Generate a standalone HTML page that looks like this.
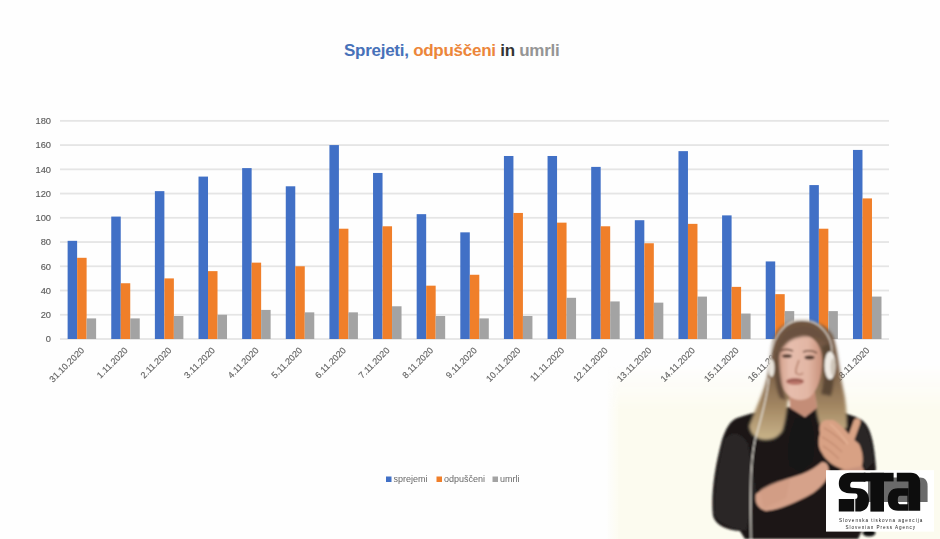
<!DOCTYPE html>
<html><head><meta charset="utf-8">
<style>
html,body{margin:0;padding:0;}
body{width:940px;height:539px;overflow:hidden;background:#fefefe;position:relative;font-family:"Liberation Sans",sans-serif;}
.cream{position:absolute;left:606px;top:365px;width:334px;height:174px;background:linear-gradient(to right,rgba(252,251,239,0) 0px,#fcfbef 14px);-webkit-mask-image:linear-gradient(to bottom,transparent 0px,#000 45px);}
svg{position:absolute;left:0;top:0;filter:blur(0.35px);}
.yl{font-size:9.3px;fill:#5a5a5a;stroke:#666;stroke-width:0.15px;}
.xl{font-size:9px;fill:#606060;stroke:#6a6a6a;stroke-width:0.15px;}
.title{position:absolute;left:344px;top:41px;font-size:17px;font-weight:bold;white-space:nowrap;letter-spacing:-0.27px;}
.legend{font-size:9px;fill:#686868;}
</style></head><body>
<div class="cream"></div>
<div class="title"><span style="color:#4771b9">Sprejeti,</span> <span style="color:#ec863a">odpuščeni</span> <span style="color:#333333">in</span> <span style="color:#959595">umrli</span></div>
<svg width="940" height="539" viewBox="0 0 940 539">
<rect x="60.0" y="338.10" width="829.0" height="1.8" fill="#e5e5e5"/>
<text x="51" y="342.40" text-anchor="end" class="yl">0</text>
<rect x="60.0" y="313.86" width="829.0" height="1.8" fill="#e5e5e5"/>
<text x="51" y="318.16" text-anchor="end" class="yl">20</text>
<rect x="60.0" y="289.62" width="829.0" height="1.8" fill="#e5e5e5"/>
<text x="51" y="293.92" text-anchor="end" class="yl">40</text>
<rect x="60.0" y="265.38" width="829.0" height="1.8" fill="#e5e5e5"/>
<text x="51" y="269.68" text-anchor="end" class="yl">60</text>
<rect x="60.0" y="241.14" width="829.0" height="1.8" fill="#e5e5e5"/>
<text x="51" y="245.44" text-anchor="end" class="yl">80</text>
<rect x="60.0" y="216.90" width="829.0" height="1.8" fill="#e5e5e5"/>
<text x="51" y="221.20" text-anchor="end" class="yl">100</text>
<rect x="60.0" y="192.66" width="829.0" height="1.8" fill="#e5e5e5"/>
<text x="51" y="196.96" text-anchor="end" class="yl">120</text>
<rect x="60.0" y="168.42" width="829.0" height="1.8" fill="#e5e5e5"/>
<text x="51" y="172.72" text-anchor="end" class="yl">140</text>
<rect x="60.0" y="144.18" width="829.0" height="1.8" fill="#e5e5e5"/>
<text x="51" y="148.48" text-anchor="end" class="yl">160</text>
<rect x="60.0" y="119.94" width="829.0" height="1.8" fill="#e5e5e5"/>
<text x="51" y="124.24" text-anchor="end" class="yl">180</text>
<rect x="67.62" y="240.83" width="9.5" height="98.17" fill="#4170c6"/>
<rect x="77.12" y="257.80" width="9.5" height="81.20" fill="#f07f2a"/>
<rect x="86.62" y="318.40" width="9.5" height="20.60" fill="#a3a3a3"/>
<text transform="translate(80.52,346.8) rotate(-45)" text-anchor="end" class="xl" dy="6">31.10.2020</text>
<rect x="111.25" y="216.59" width="9.5" height="122.41" fill="#4170c6"/>
<rect x="120.75" y="283.25" width="9.5" height="55.75" fill="#f07f2a"/>
<rect x="130.25" y="318.40" width="9.5" height="20.60" fill="#a3a3a3"/>
<text transform="translate(124.15,346.8) rotate(-45)" text-anchor="end" class="xl" dy="6">1.11.2020</text>
<rect x="154.88" y="191.14" width="9.5" height="147.86" fill="#4170c6"/>
<rect x="164.38" y="278.40" width="9.5" height="60.60" fill="#f07f2a"/>
<rect x="173.88" y="315.97" width="9.5" height="23.03" fill="#a3a3a3"/>
<text transform="translate(167.78,346.8) rotate(-45)" text-anchor="end" class="xl" dy="6">2.11.2020</text>
<rect x="198.51" y="176.59" width="9.5" height="162.41" fill="#4170c6"/>
<rect x="208.01" y="271.13" width="9.5" height="67.87" fill="#f07f2a"/>
<rect x="217.51" y="314.76" width="9.5" height="24.24" fill="#a3a3a3"/>
<text transform="translate(211.41,346.8) rotate(-45)" text-anchor="end" class="xl" dy="6">3.11.2020</text>
<rect x="242.14" y="168.11" width="9.5" height="170.89" fill="#4170c6"/>
<rect x="251.64" y="262.64" width="9.5" height="76.36" fill="#f07f2a"/>
<rect x="261.14" y="309.91" width="9.5" height="29.09" fill="#a3a3a3"/>
<text transform="translate(255.04,346.8) rotate(-45)" text-anchor="end" class="xl" dy="6">4.11.2020</text>
<rect x="285.77" y="186.29" width="9.5" height="152.71" fill="#4170c6"/>
<rect x="295.27" y="266.28" width="9.5" height="72.72" fill="#f07f2a"/>
<rect x="304.77" y="312.34" width="9.5" height="26.66" fill="#a3a3a3"/>
<text transform="translate(298.67,346.8) rotate(-45)" text-anchor="end" class="xl" dy="6">5.11.2020</text>
<rect x="329.41" y="145.08" width="9.5" height="193.92" fill="#4170c6"/>
<rect x="338.91" y="228.71" width="9.5" height="110.29" fill="#f07f2a"/>
<rect x="348.41" y="312.34" width="9.5" height="26.66" fill="#a3a3a3"/>
<text transform="translate(342.31,346.8) rotate(-45)" text-anchor="end" class="xl" dy="6">6.11.2020</text>
<rect x="373.04" y="172.96" width="9.5" height="166.04" fill="#4170c6"/>
<rect x="382.54" y="226.28" width="9.5" height="112.72" fill="#f07f2a"/>
<rect x="392.04" y="306.28" width="9.5" height="32.72" fill="#a3a3a3"/>
<text transform="translate(385.94,346.8) rotate(-45)" text-anchor="end" class="xl" dy="6">7.11.2020</text>
<rect x="416.67" y="214.16" width="9.5" height="124.84" fill="#4170c6"/>
<rect x="426.17" y="285.67" width="9.5" height="53.33" fill="#f07f2a"/>
<rect x="435.67" y="315.97" width="9.5" height="23.03" fill="#a3a3a3"/>
<text transform="translate(429.57,346.8) rotate(-45)" text-anchor="end" class="xl" dy="6">8.11.2020</text>
<rect x="460.30" y="232.34" width="9.5" height="106.66" fill="#4170c6"/>
<rect x="469.80" y="274.76" width="9.5" height="64.24" fill="#f07f2a"/>
<rect x="479.30" y="318.40" width="9.5" height="20.60" fill="#a3a3a3"/>
<text transform="translate(473.20,346.8) rotate(-45)" text-anchor="end" class="xl" dy="6">9.11.2020</text>
<rect x="503.93" y="155.99" width="9.5" height="183.01" fill="#4170c6"/>
<rect x="513.43" y="212.95" width="9.5" height="126.05" fill="#f07f2a"/>
<rect x="522.93" y="315.97" width="9.5" height="23.03" fill="#a3a3a3"/>
<text transform="translate(516.83,346.8) rotate(-45)" text-anchor="end" class="xl" dy="6">10.11.2020</text>
<rect x="547.56" y="155.99" width="9.5" height="183.01" fill="#4170c6"/>
<rect x="557.06" y="222.65" width="9.5" height="116.35" fill="#f07f2a"/>
<rect x="566.56" y="297.79" width="9.5" height="41.21" fill="#a3a3a3"/>
<text transform="translate(560.46,346.8) rotate(-45)" text-anchor="end" class="xl" dy="6">11.11.2020</text>
<rect x="591.19" y="166.90" width="9.5" height="172.10" fill="#4170c6"/>
<rect x="600.69" y="226.28" width="9.5" height="112.72" fill="#f07f2a"/>
<rect x="610.19" y="301.43" width="9.5" height="37.57" fill="#a3a3a3"/>
<text transform="translate(604.09,346.8) rotate(-45)" text-anchor="end" class="xl" dy="6">12.11.2020</text>
<rect x="634.83" y="220.22" width="9.5" height="118.78" fill="#4170c6"/>
<rect x="644.33" y="243.25" width="9.5" height="95.75" fill="#f07f2a"/>
<rect x="653.83" y="302.64" width="9.5" height="36.36" fill="#a3a3a3"/>
<text transform="translate(647.73,346.8) rotate(-45)" text-anchor="end" class="xl" dy="6">13.11.2020</text>
<rect x="678.46" y="151.14" width="9.5" height="187.86" fill="#4170c6"/>
<rect x="687.96" y="223.86" width="9.5" height="115.14" fill="#f07f2a"/>
<rect x="697.46" y="296.58" width="9.5" height="42.42" fill="#a3a3a3"/>
<text transform="translate(691.36,346.8) rotate(-45)" text-anchor="end" class="xl" dy="6">14.11.2020</text>
<rect x="722.09" y="215.38" width="9.5" height="123.62" fill="#4170c6"/>
<rect x="731.59" y="286.88" width="9.5" height="52.12" fill="#f07f2a"/>
<rect x="741.09" y="313.55" width="9.5" height="25.45" fill="#a3a3a3"/>
<text transform="translate(734.99,346.8) rotate(-45)" text-anchor="end" class="xl" dy="6">15.11.2020</text>
<rect x="765.72" y="261.43" width="9.5" height="77.57" fill="#4170c6"/>
<rect x="775.22" y="294.16" width="9.5" height="44.84" fill="#f07f2a"/>
<rect x="784.72" y="311.12" width="9.5" height="27.88" fill="#a3a3a3"/>
<text transform="translate(778.62,346.8) rotate(-45)" text-anchor="end" class="xl" dy="6">16.11.2020</text>
<rect x="809.35" y="185.08" width="9.5" height="153.92" fill="#4170c6"/>
<rect x="818.85" y="228.71" width="9.5" height="110.29" fill="#f07f2a"/>
<rect x="828.35" y="311.12" width="9.5" height="27.88" fill="#a3a3a3"/>
<text transform="translate(822.25,346.8) rotate(-45)" text-anchor="end" class="xl" dy="6">17.11.2020</text>
<rect x="852.98" y="149.93" width="9.5" height="189.07" fill="#4170c6"/>
<rect x="862.48" y="198.41" width="9.5" height="140.59" fill="#f07f2a"/>
<rect x="871.98" y="296.58" width="9.5" height="42.42" fill="#a3a3a3"/>
<text transform="translate(865.88,346.8) rotate(-45)" text-anchor="end" class="xl" dy="6">18.11.2020</text>
<rect x="386" y="476.5" width="5.5" height="5.5" fill="#4170c6"/>
<text x="393.5" y="482" class="legend">sprejemi</text>
<rect x="436.5" y="476.5" width="5.5" height="5.5" fill="#f07f2a"/>
<text x="444" y="482" class="legend">odpuščeni</text>
<rect x="492.5" y="476.5" width="5.5" height="5.5" fill="#a3a3a3"/>
<text x="500" y="482" class="legend">umrli</text>
<defs>
<filter id="bl" x="-10%" y="-10%" width="120%" height="120%"><feGaussianBlur stdDeviation="1"/></filter>
<filter id="bl3" x="-30%" y="-30%" width="160%" height="160%"><feGaussianBlur stdDeviation="1.3"/></filter>
<linearGradient id="hairg" x1="0" y1="320" x2="0" y2="440" gradientUnits="userSpaceOnUse">
<stop offset="0" stop-color="#6e5440"/><stop offset="0.4" stop-color="#7a5f48"/><stop offset="0.7" stop-color="#a08460"/><stop offset="1" stop-color="#c9b48a"/>
</linearGradient>
<linearGradient id="faceg" x1="776" y1="0" x2="822" y2="0" gradientUnits="userSpaceOnUse">
<stop offset="0" stop-color="#cf9a84"/><stop offset="0.3" stop-color="#e6bdad"/><stop offset="0.7" stop-color="#e2b6a4"/><stop offset="1" stop-color="#c8917b"/>
</linearGradient>
<linearGradient id="creamg" x1="0" y1="0" x2="0" y2="1">
<stop offset="0" stop-color="#fefefe" stop-opacity="0"/><stop offset="0.25" stop-color="#f9f8ef"/><stop offset="1" stop-color="#f8f7ec"/>
</linearGradient>
</defs>
<g filter="url(#bl)">
<!-- body -->
<path d="M737,418 C752,412 772,409 790,407 L805,417 L817,407 C832,409 848,413 860,419 C870,424 874,440 876,468 L872,510 L858,539 L745,539 L740,531 C728,530 716,526 713,516 C711,496 714,470 722,440 C726,428 730,421 737,418 Z" fill="#1b1919"/>
<ellipse cx="869" cy="533" rx="6.5" ry="3.5" fill="#111"/>
<!-- sheer sleeve lighter -->
<path d="M724,440 C717,466 714,494 714,514 C718,524 732,529 746,531 L756,492 L748,444 C740,430 730,432 724,440 Z" fill="#292525"/>
<path d="M858,420 C868,426 872,440 874,462 L866,470 L852,440 Z" fill="#2a2626"/>
<!-- bow -->
<path d="M796,418 C790,430 786,448 790,466 L800,472 L812,462 C816,446 814,430 810,418 Z" fill="#141212"/>
<!-- hair -->
<path d="M802,320 C788,320 778,327 774,338 C770,350 770,364 767,378 C763,394 755,410 749,426 C750,434 756,440 766,440 C774,440 780,436 783,430 C786,420 787,410 788,400 L815,400 C816,412 818,422 822,430 C830,432 840,432 847,428 C847,414 846,400 843,388 C839,370 838,350 833,336 C827,325 814,320 802,320 Z" fill="url(#hairg)" filter="url(#bl3)"/>
<!-- neck -->
<path d="M789,392 L815,392 L817,408 L805,417 L790,408 Z" fill="#c48d77"/>
<!-- face -->
<path d="M799,334 C812,334 822,344 822,360 C822,376 818,390 810,397 C804,401 795,401 789,396 C781,389 777,376 777,360 C777,344 786,334 799,334 Z" fill="url(#faceg)"/>
<!-- hair over forehead / sides -->
<g filter="url(#bl3)">
<path d="M775,358 C776,338 787,326 802,326 C816,326 828,334 831,350 C826,342 820,338 814,337 C804,335 792,337 785,345 C780,350 778,358 777,368 Z" fill="#6a5140"/>
<path d="M776,352 C774,366 774,384 780,398 L786,400 C781,386 779,368 779,352 Z" fill="#5e4838"/>
<path d="M822,346 C825,360 825,380 821,394 L831,396 C835,382 835,360 830,344 Z" fill="#5a4636"/>
</g>
<!-- brows/eyes -->
<path d="M780,351 C784,349 789,349 793,351" stroke="#6e4c3c" stroke-width="1.5" fill="none"/>
<path d="M803,352 C808,350 812,350 817,353" stroke="#6e4c3c" stroke-width="1.5" fill="none"/>
<ellipse cx="787" cy="356" rx="5" ry="1.8" fill="#4a3228"/>
<ellipse cx="809.5" cy="357.5" rx="5" ry="1.9" fill="#4a3228"/>
<path d="M799,360 C797,366 795,370 796,373 C798,375 801,375 803,373" stroke="#b27c66" stroke-width="1.4" fill="none"/>
<ellipse cx="795" cy="381.5" rx="9" ry="3.4" fill="#bb766a"/>
<path d="M787,381.5 C792,380 799,380 803,381.5" stroke="#7e443c" stroke-width="1.1" fill="none"/>
<!-- headband -->
<path d="M770,372 C768,340 784,320 802,320 C820,320 832,336 832,352" stroke="#efebe4" stroke-width="1.3" fill="none" opacity="0.8"/>
<!-- earcups -->
<ellipse cx="830" cy="365.5" rx="5.5" ry="14" fill="#efeae3"/>
<ellipse cx="833" cy="367" rx="2.5" ry="9" fill="#cfc6ba"/>
<ellipse cx="771.5" cy="368" rx="3" ry="9" fill="#e9e4db"/>
<!-- cable -->
<path d="M769,378 C767,400 760,422 755,440 C751,460 750,480 751,539" stroke="#e8e3da" stroke-width="1.2" fill="none"/>
<!-- right hand raised -->
<path d="M848,447 L857,422" stroke="#d9a385" stroke-width="7" stroke-linecap="round" fill="none"/>
<path d="M827,420 C821,420 818,427 820,433 C818,440 818,448 822,453 C826,461 834,467 846,470 L861,468 C864,462 863,452 859,444 L852,438 C847,431 839,423 833,420 Z" fill="#d8a184"/>
<path d="M824,428 C830,431 838,437 845,444" stroke="#b47a60" stroke-width="1" fill="none"/>
<path d="M822,437 C828,440 836,446 842,452" stroke="#b47a60" stroke-width="1" fill="none"/>
<path d="M823,446 C828,449 834,454 839,459" stroke="#b47a60" stroke-width="1" fill="none"/>
<path d="M830,424 C836,428 842,436 848,444" stroke="#e6b497" stroke-width="1.5" fill="none"/>
<path d="M840,470 L862,466 L868,480 L842,482 Z" fill="#c9947e"/>
<!-- left hand horizontal -->
<path d="M756,494 C766,486 784,480 802,474 C810,471 816,467 822,462 C828,462 830,468 828,476 C824,485 816,492 806,497 C792,504 778,510 766,511 C758,509 754,502 756,494 Z" fill="#d6a28a"/>
<path d="M760,490 C768,484 780,480 790,478 L786,498 L764,508 Z" fill="#cf9a82" opacity="0.6"/>
</g>
<!-- STA logo -->
<g filter="url(#blogo)">
<rect x="826" y="470.2" width="108" height="61.4" fill="#ffffff"/>
<path d="M868,477.6 L920,477.6 C925,477.6 927.6,481 927.6,486 L927.6,502 L868,502 Z" fill="#6a6a6a"/>
<g fill="#0b0b0b">
<path d="M865.5,472.8 L850,472.8 C843,472.8 838.8,477 838.8,483.5 C838.8,489.5 842.5,492.8 849,493.2 L855.5,493.6 C857,493.8 857.5,494.6 857.5,496 C857.5,498 857,499 855,499 L838.8,499 L838.8,511.6 L858,511.6 C865.5,511.6 869,507 869,500 C869,493 865,488.6 858,488.2 L852,487.8 C850.8,487.7 850.2,487 850.2,485.5 C850.2,483.6 850.8,481.8 852.5,481.8 L865.5,481.8 Z"/>
<rect x="863.8" y="472.8" width="29.8" height="8.6"/>
<rect x="870.4" y="472.8" width="13.6" height="38.8"/>
<path d="M896.8,472.8 L911,472.8 C917,472.8 920.2,476.5 920.2,483 L920.2,510.8 L908.5,510.8 L908.5,481.5 L896.8,481.5 Z"/>
<path d="M908.5,488.2 L898,488.2 C891,488.2 887.8,493 887.8,499.5 C887.8,506.5 891,510.8 898,510.8 L908.5,510.8 Z M907.4,495.7 L900,495.7 C898.3,495.7 897.8,497.5 897.8,500 C897.8,502.5 898.5,504.2 900,504.2 L907.4,504.2 Z" fill-rule="evenodd"/>
</g>
<rect x="854.2" y="499" width="1.1" height="13" fill="#fff"/>
<text x="839" y="521.5" font-size="4.6" letter-spacing="0.98" fill="#222">Slovenska tiskovna agencija</text>
<text x="845.5" y="528.8" font-size="4.6" letter-spacing="0.95" fill="#222">Slovenian Press Agency</text>
</g>
<defs><filter id="blogo" x="-5%" y="-5%" width="110%" height="110%"><feGaussianBlur stdDeviation="0.45"/></filter></defs>

</svg>
</body></html>
